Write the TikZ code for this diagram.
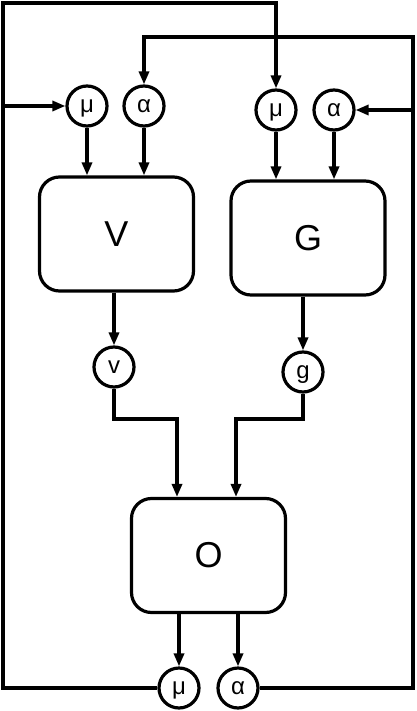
\documentclass[tikz,border=0pt]{standalone}
\usepackage{fontspec}
\setmainfont{Liberation Sans}
\usetikzlibrary{arrows.meta,calc}

\begin{document}
\begin{tikzpicture}[x=1pt,y=-1pt,line width=3.2pt,
  blockbox/.style={draw,rounded corners=20pt,minimum width=154pt,minimum height=114pt,
    inner sep=0pt,font=\fontsize{36}{40}\selectfont},
  port/.style={draw,circle,minimum size=40pt,inner sep=0pt,text height=13pt,text depth=0pt,
    font=\fontsize{24}{26}\selectfont},
  flow/.style={-{Triangle[length=13pt,width=10pt]}}]
\useasboundingbox (0,0) rectangle (416,711);

% processing blocks
\node[blockbox] (V) at (116.5,234) {V};
\node[blockbox] (G) at (308,238) {G};
\node[blockbox] (O) at (208.5,555.5) {O};

% parameter ports
\node[port] (Vmu) at (87,106) {μ};
\node[port] (Va)  at (144,106) {α};
\node[port] (Gmu) at (276,110) {μ};
\node[port] (Ga)  at (334,110) {α};
\node[port] (v)   at (114,367) {v};
\node[port] (g)   at (303,372) {g};
\node[port] (Omu) at (179,688) {μ};
\node[port] (Oa)  at (238,688) {α};

% wire corners
\coordinate (vin) at (177,419);
\coordinate (gin) at (236,419);
\coordinate (lb) at (3,688);
\coordinate (lt) at (3,3);
\coordinate (lbranch) at (3,106);
\coordinate (rb) at (413,688);
\coordinate (rt) at (413,37);

% ports into blocks
\draw[flow] (Vmu.south) -- (Vmu.south |- V.north);
\draw[flow] (Va.south) -- (Va.south |- V.north);
\draw[flow] (Gmu.south) -- (Gmu.south |- G.north);
\draw[flow] (Ga.south) -- (Ga.south |- G.north);

% block outputs
\draw[flow] (V.south -| v.north) -- (v.north);
\draw[flow] (G.south -| g.north) -- (g.north);
\draw[flow] (v.south) |- (vin) -- (vin |- O.north);
\draw[flow] (g.south) |- (gin) -- (gin |- O.north);
\draw[flow] (O.south -| Omu.north) -- (Omu.north);
\draw[flow] (O.south -| Oa.north) -- (Oa.north);

% feedback loops
\draw[flow] (Omu.west) -- (lb) -- (lt) -| (Gmu.north);
\draw[flow] (lbranch) -- (Vmu.west);
\draw[flow] (Oa.east) -- (rb) -- (rt) -| (Va.north);
\draw[flow] (Ga.east -| rb) -- (Ga.east);
\end{tikzpicture}
\end{document}
